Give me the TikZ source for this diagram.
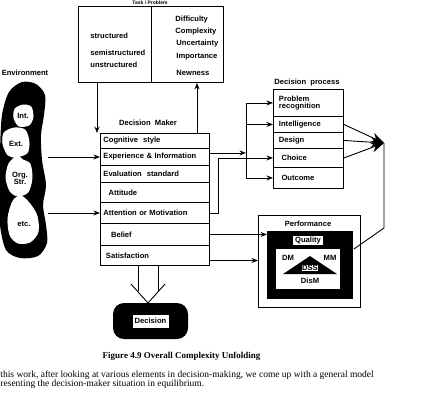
\documentclass[tikz,border=0pt]{standalone}
\usepackage{fontspec}
\setmainfont{Liberation Serif}
\setsansfont{Liberation Sans}
\usetikzlibrary{arrows.meta}
\usetikzlibrary{positioning}
\tikzset{lbl/.style={font=\sffamily\bfseries\fontsize{7.6}{8}\selectfont,inner sep=1pt}}
\tikzset{row/.style={draw,line width=0.9pt,anchor=north west,lbl,align=left,inner xsep=3pt,inner ysep=0pt}}
\tikzset{dmrow/.style={row,text width=103pt}}
\tikzset{dprow/.style={row,text width=64pt}}
\tikzset{lobe/.style={fill=white,draw=white}}

\begin{document}
\begin{tikzpicture}[
x = 1pt, y = -1pt, % pixel grid
> = {Stealth[length=6.5pt,width=5pt]}, % arrow head style
line width = 0.9pt
]
\useasboundingbox (0,0) rectangle (438,405);

% task / problem
\node[lbl,font=\sffamily\bfseries\fontsize{5}{5}\selectfont,inner sep=0pt,anchor=north] (task) at (150,0.4) {Task / Problem};
\node[draw,anchor=north west,minimum width=73pt,minimum height=76pt] (tl) at (78,6) {};
\node[draw,anchor=north west,minimum width=72pt,minimum height=76pt] (tr) at (151,6) {};
\node[lbl,anchor=west] (s1) at (89,36) {structured};
\node[lbl,anchor=west] (s2) at (89,53) {semistructured};
\node[lbl,anchor=west] (s3) at (89,65) {unstructured};
\node[lbl,anchor=west] (c1) at (174,20) {Difficulty};
\node[lbl,anchor=west] (c2) at (174,32) {Complexity};
\node[lbl,anchor=west] (c3) at (175,44) {Uncertainty};
\node[lbl,anchor=west] (c4) at (175,57) {Importance};
\node[lbl,anchor=west] (c5) at (175,73) {Newness};

% environment
\node[lbl] (env) at (25,73) {Environment};
\fill plot[smooth cycle] coordinates {(22,82) (36,84) (45,95) (44,115) (41,135) (42,160)
  (46,185) (43,205) (46,225) (47,243) (38,256) (20,258) (6,250) (0,225) (-1,190) (0,150)
  (2,115) (9,92)};
\fill[lobe] plot[smooth cycle] coordinates {(15,109) (23,105) (31,107) (33,117) (29,125) (19,126) (14,118)};
\fill[lobe] plot[smooth cycle] coordinates {(4,133) (14,128) (25,130) (29,142) (27,153) (16,157) (8,155) (3,144)};
\fill[lobe] plot[smooth cycle] coordinates {(11,161) (17,156) (23,160) (30,164) (32,178) (28,192) (18,196) (10,191) (6,178) (8,166)};
\fill[lobe] plot[smooth cycle] coordinates {(13,201) (21,196) (30,204) (37,216) (38,232) (30,242) (18,243) (10,235) (8,218)};
\node[lbl] (int) at (23,116) {Int.};
\node[lbl] (ext) at (16,144) {Ext.};
\node[lbl,align=center] (org) at (20,178) {Org.\\[-1pt]Str.};
\node[lbl] (etc) at (24,224) {etc.};
\coordinate (e1) at (48,157);
\coordinate (e2) at (48,213);

% decision maker
\node[lbl] (dmt) at (148,123) {Decision\ \ Maker};
\node[dmrow,minimum height=15pt] (dm1) at (100,133) {Cognitive\ \ style};
\node[dmrow,minimum height=17pt] (dm2) at (100,148) {Experience \& Information};
\node[dmrow,minimum height=17pt] (dm3) at (100,165) {Evaluation\ \ standard};
\node[dmrow,minimum height=20pt] (dm4) at (100,182) {\ \ Attitude};
\node[dmrow,minimum height=21pt] (dm5) at (100,202) {Attention or Motivation};
\node[dmrow,minimum height=22pt] (dm6) at (100,223) {\ \ \ Belief};
\node[dmrow,minimum height=20pt] (dm7) at (100,245) {\ Satisfaction};

\draw[->] (e1) -- (e1 -| dm2.west);
\draw[->] (e2) -- (e2 -| dm5.west);
\coordinate (dx) at (97,0);
\coordinate (ux) at (197,0);
\draw[->] (tl.south -| dx) -- (dm1.north -| dx);
\draw[->] (dm1.north -| ux) -- (tr.south -| ux);

% decision process
\node[lbl] (dpt) at (307,83) {Decision\ \ process};
\node[dprow,minimum height=27pt] (dp1) at (273,89) {\ Problem\\[-1pt]\ recognition};
\node[dprow,minimum height=16pt] (dp2) at (273,116) {\ Intelligence};
\node[dprow,minimum height=16pt] (dp3) at (273,132) {\ Design};
\node[dprow,minimum height=19pt] (dp4) at (273,148) {\ \ Choice};
\node[dprow,minimum height=21pt] (dp5) at (273,167) {\ \ Outcome};

\coordinate (bus) at (246,0);
\coordinate (jog) at (218,0);
\draw[->] ([yshift=4pt]dm2.east) -- ([yshift=4pt]dm2.east -| bus);
\draw (bus |- dp1.west) -- (bus |- dp5.west);
\draw[->] (bus |- dp1.west) -- (dp1.west);
\draw[->] (bus |- dp2.west) -- (dp2.west);
\draw[->] (bus |- dp5.west) -- (dp5.west);
\draw[->] (dm5.east) -- (dm5.east -| jog) -- (jog |- dp4.west) -- (dp4.west);

\coordinate (J) at (384,143);
\draw[-{Stealth[length=13pt,width=10pt]}] (dp2.east) -- (J);
\draw[-{Stealth[length=13pt,width=10pt]}] (dp3.east) -- (J);
\draw[-{Stealth[length=13pt,width=10pt]}] (dp4.east) -- (J);

% performance
\node[lbl] (pt) at (308,224) {Performance};
\node[draw,anchor=north west,minimum width=102pt,minimum height=92pt] (perf) at (258,215) {};
\node[fill=black,anchor=north west,minimum width=86pt,minimum height=68pt] (pblk) at (267,231) {};
\node[fill=white,anchor=north west,minimum width=64pt,minimum height=40pt] (pwht) at (276,249) {};
\node[lbl,fill=white,minimum width=30pt] (qual) at (308,240.5) {Quality};
\fill (283,274) -- (310,256) -- (337,274) -- cycle;
\node[lbl] (pdm) at (288,258) {DM};
\node[lbl] (pmm) at (330,258) {MM};
\node[lbl,fill=white,draw,line width=0.5pt,inner sep=0.8pt] (dss) at (310,267.5) {DSS};
\node[lbl] (dism) at (310,281) {DisM};

\coordinate (K) at (384,228);
\draw (J) -- (K) -- ([yshift=-18pt]pblk.north east);
\draw[->] (dm6.east) -- (dm6.east -| pblk.west);
\draw[->] ([yshift=-5pt]dm7.east) -- ([yshift=-5pt]dm7.east -| perf.west);

% decision
\node[fill=black,rounded corners=11pt,minimum width=75pt,minimum height=36pt] (dec) at (150.5,321) {};
\node[lbl,fill=white,minimum width=36pt,minimum height=13pt] (dect) at (dec) {Decision};
\draw (138,265) -- (138,291);
\draw (158,265) -- (158,291);
\draw (131,284) -- (148,303) -- (165,284);

% caption and text
\node[font=\bfseries\fontsize{9}{10}\selectfont] (cap) at (181.5,356) {Figure 4.9 Overall Complexity Unfolding};
\node[anchor=west,inner sep=0pt,font=\fontsize{9.5}{10}\selectfont] (txt1) at (0,375)
  {this work, after looking at various elements in decision-making, we come up with a general model};
\node[anchor=west,inner sep=0pt,font=\fontsize{9.5}{10}\selectfont] (txt2) at (0,384.5)
  {resenting the decision-maker situation in equilibrium.};
\end{tikzpicture}
\end{document}
